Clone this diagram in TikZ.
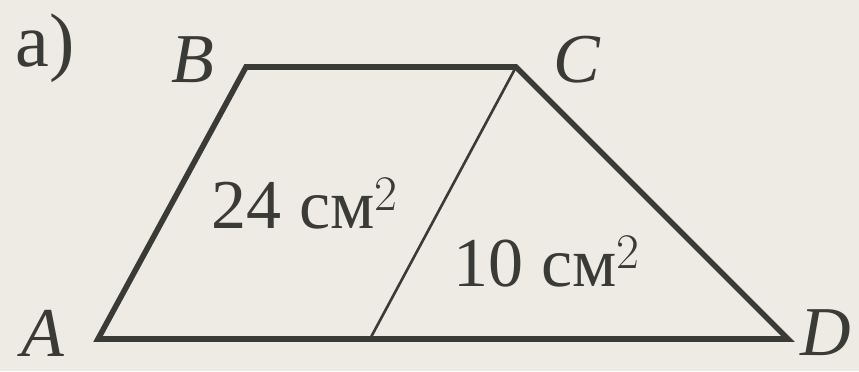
\documentclass[tikz,border=0pt]{standalone}
\usepackage{fontspec}
\setmainfont{Liberation Serif}
\definecolor{bg}{HTML}{EDEBE4}
\definecolor{ink}{HTML}{3A3A36}
\begin{document}
\begin{tikzpicture}[x=0.5pt,y=-0.5pt,
  outer/.style={draw=ink,line width=2.8pt,line join=miter},
  inner/.style={draw=ink,line width=1.3pt},
  lbl/.style={text=ink,inner sep=0pt,font=\fontsize{35}{40}\selectfont\itshape},
  area/.style={text=ink,inner sep=0pt,font=\fontsize{35}{40}\selectfont}]
\fill[bg] (0,0) rectangle (859,371);
\useasboundingbox (0,0) rectangle (859,371);
\coordinate (A) at (98,339);
\coordinate (B) at (246,67);
\coordinate (C) at (516,67);
\coordinate (D) at (788,339);
\coordinate (M) at (370,339);
\draw[outer] (A) -- (B) -- (C) -- (D) -- cycle;
\draw[inner] (C) -- (M);
\node[text=ink,inner sep=0pt,font=\fontsize{38}{40}\selectfont] (lab) at (45,48) {a)};
\node[lbl] (nB) at (193,60) {B};
\node[lbl] (nC) at (577,60) {C};
\node[lbl] (nA) at (43,333) {A};
\node[lbl] (nD) at (826,333) {D};
\node[area] (s1) at (305,204) {24 см$^2$};
\node[area] (s2) at (547,262) {10 см$^2$};
\end{tikzpicture}
\end{document}
